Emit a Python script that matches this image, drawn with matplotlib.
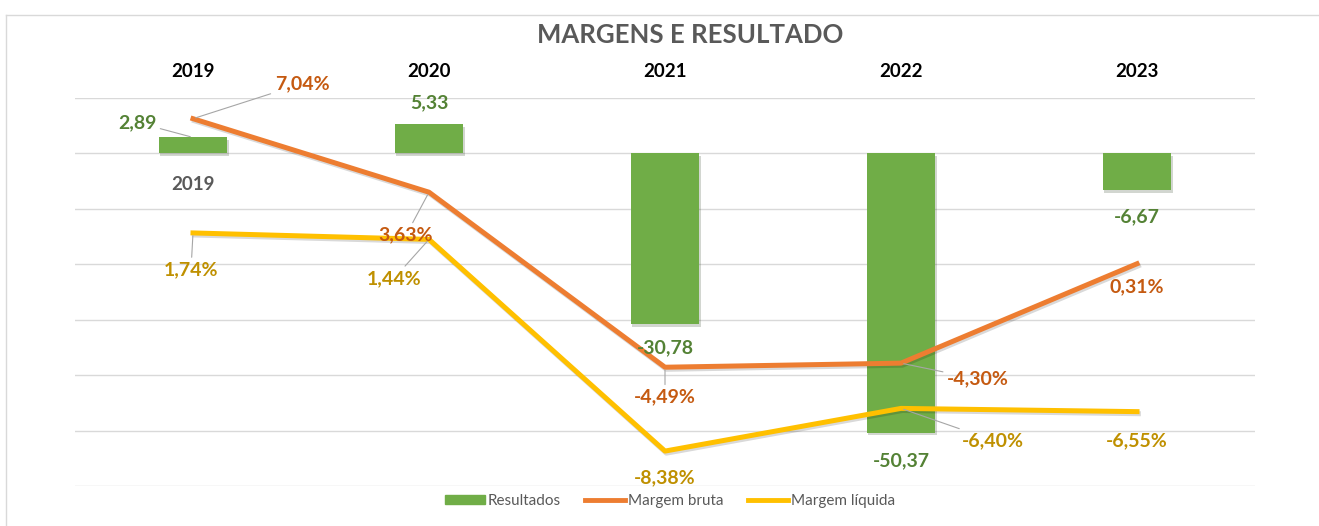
import numpy as np
import matplotlib.pyplot as plt
import matplotlib.patheffects as pe
from matplotlib.lines import Line2D
from matplotlib.patches import Patch

plt.rcParams['font.family'] = ['Lato', 'DejaVu Sans']

anos = ['2019', '2020', '2021', '2022', '2023']
resultados = [2.89, 5.33, -30.78, -50.37, -6.67]
margem_bruta = [7.04, 3.63, -4.49, -4.30, 0.31]
margem_liquida = [1.74, 1.44, -8.38, -6.40, -6.55]

# where each data label sits, in pixels from its point
off_res = [(-56, 15), (0, 21), (0, -24), (0, -28), (0, -26)]
off_bruta = [(109, 35), (-23, -43), (0, -30), (77, -16), (0, -23)]
off_liq = [(-2, -37), (-35, -39), (0, -27), (92, -32), (0, -29)]
leader_res = [True, False, False, False, False]
leader_bruta = [True, True, True, True, False]
leader_liq = [True, True, False, True, False]

verde, laranja, amarelo = '#70AD47', '#ED7D31', '#FFC000'
txt_verde, txt_laranja, txt_amarelo = '#548235', '#C55A11', '#BF9000'
cinza = '#595959'


def fmt(v, pct=False):
    s = f'{v:.2f}'.replace('.', ',')
    return s + '%' if pct else s


fig = plt.figure(figsize=(13.19, 5.26), dpi=100)
ax = fig.add_axes([75 / 1319, 1 - 486 / 526, 1180 / 1319, 388 / 526])
x = np.arange(len(anos))

ax.bar(x, resultados, width=0.29, color=verde, zorder=2,
       path_effects=[pe.SimplePatchShadow(offset=(1, -2), alpha=0.2), pe.Normal()])
ax.set_xlim(-0.5, len(anos) - 0.5)
ax.set_ylim(-60, 10)
ax.set_yticks(np.arange(-60, 11, 10))
ax.grid(axis='y', color='#d9d9d9', lw=1, zorder=0)
ax.set_axisbelow(True)
ax.xaxis.tick_top()
ax.set_xticks(x)
ax.set_xticklabels(anos, fontsize=13.5, fontweight='bold', color='black')
ax.tick_params(length=0, pad=13)
ax.tick_params(axis='y', labelleft=False)
for s in ax.spines.values():
    s.set_visible(False)

ax2 = ax.twinx()
ax2.set_ylim(-10, 8)
sombra = [pe.SimpleLineShadow(offset=(1, -1.5), alpha=0.15), pe.Normal()]
ax2.plot(x, margem_bruta, color=laranja, lw=3.6, zorder=3,
         solid_joinstyle='round', path_effects=sombra)
ax2.plot(x, margem_liquida, color=amarelo, lw=3.6, zorder=3,
         solid_joinstyle='round', path_effects=sombra)
ax2.set_yticks([])
for s in ax2.spines.values():
    s.set_visible(False)

leader = dict(arrowstyle='-', color='#a6a6a6', lw=0.8, shrinkA=1, shrinkB=2)


def rotular(valores, offs, leaders, cor, pct, trans):
    for i, v in enumerate(valores):
        ax2.annotate(fmt(v, pct), xy=(x[i], v), xycoords=trans,
                     xytext=offs[i], textcoords='offset pixels',
                     ha='center', va='center', fontsize=14,
                     fontweight='bold', color=cor, zorder=10,
                     arrowprops=leader if leaders[i] else None)


rotular(resultados, off_res, leader_res, txt_verde, False, ax.transData)
rotular(margem_bruta, off_bruta, leader_bruta, txt_laranja, True, ax2.transData)
rotular(margem_liquida, off_liq, leader_liq, txt_amarelo, True, ax2.transData)

# stray category label under the first bar
ax2.annotate(anos[0], xy=(x[0], 0), xycoords=ax.transData, xytext=(0, -31),
             textcoords='offset pixels', ha='center', va='center',
             fontsize=13.5, fontweight='bold', color=cinza)

fig.text(690 / 1319, 1 - 35 / 526, 'MARGENS E RESULTADO', ha='center',
         va='center', fontsize=18.5, fontweight='bold', color=cinza)

handles = [Patch(color=verde), Line2D([], [], color=laranja, lw=3.5),
           Line2D([], [], color=amarelo, lw=3.5)]
leg = fig.legend(handles, ['Resultados', 'Margem bruta', 'Margem líquida'],
                 loc='center', bbox_to_anchor=(670 / 1319, 1 - 501 / 526), ncol=3,
                 frameon=False, fontsize=11, handlelength=2.6, handleheight=0.5,
                 handletextpad=0.2, columnspacing=1.6)
for t in leg.get_texts():
    t.set_color(cinza)

# chart area border (cropped on the right and bottom)
fig.add_artist(Line2D([6 / 1319, 1], [1 - 15 / 526] * 2, color='#d9d9d9', lw=1))
fig.add_artist(Line2D([6 / 1319] * 2, [0, 1 - 15 / 526], color='#d9d9d9', lw=1))

fig.savefig('out.png', dpi=100)
